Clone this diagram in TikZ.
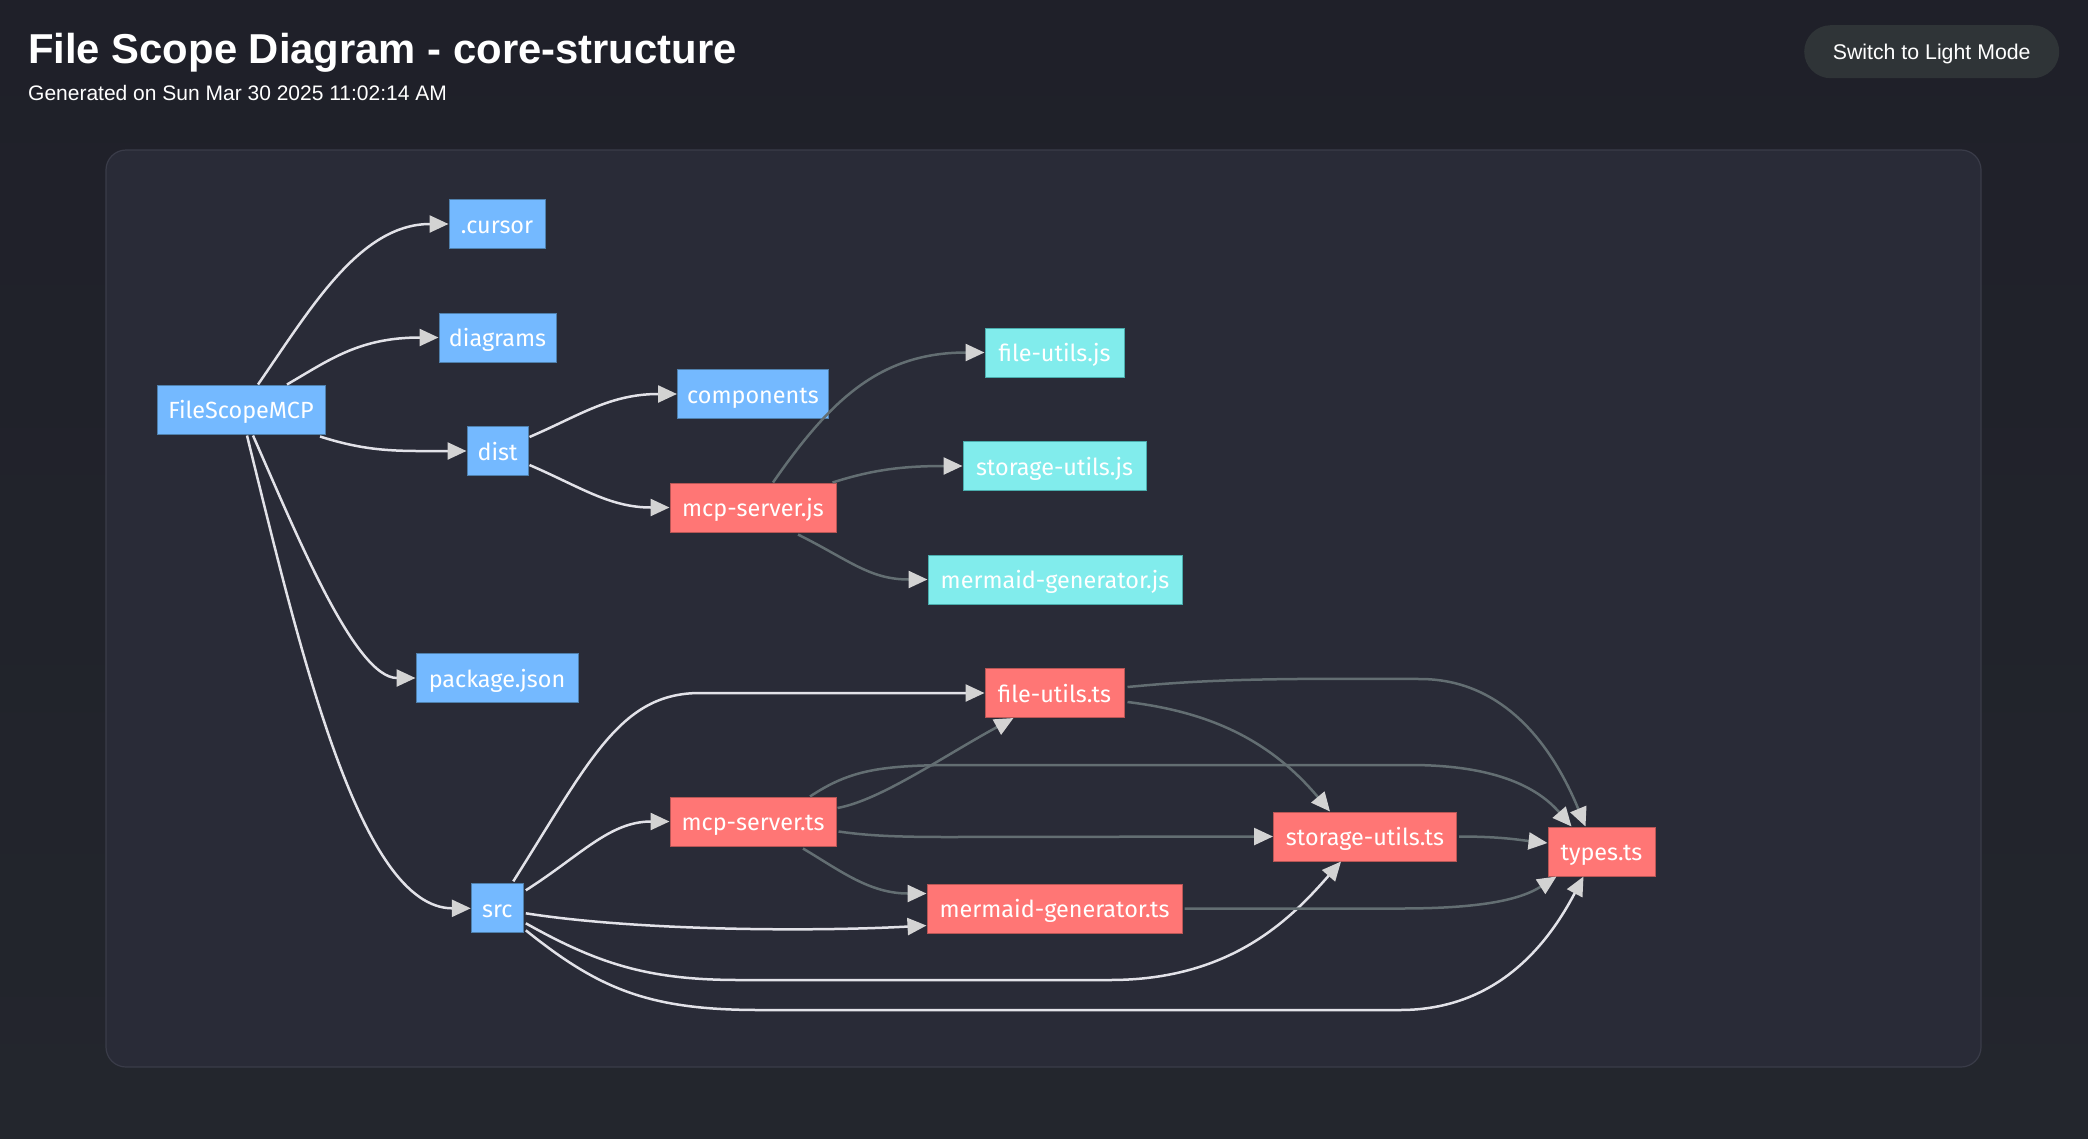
\documentclass[tikz,border=0pt]{standalone}
\usepackage{fontspec}
\setmainfont{Liberation Sans}
\newfontfamily\nodefont{Fira Sans}
\usetikzlibrary{arrows.meta,calc}
\definecolor{pagebg}{HTML}{1F2029}
\definecolor{pagebgb}{HTML}{23262D}
\definecolor{panelbg}{HTML}{292B37}
\definecolor{panelbd}{HTML}{3A3C49}
\definecolor{btnbg}{HTML}{2F3437}
\definecolor{nblue}{HTML}{74B9FF}
\definecolor{nblueb}{HTML}{4F80AC}
\definecolor{nred}{HTML}{FF7675}
\definecolor{nredb}{HTML}{B85655}
\definecolor{ncyan}{HTML}{81ECEC}
\definecolor{ncyanb}{HTML}{4AADAD}
\definecolor{edgew}{HTML}{E2E2E8}
\definecolor{edgeg}{HTML}{636E72}
\definecolor{arrowc}{HTML}{D3D3D3}
\tikzset{
  fnode/.style={draw, line width=1pt, inner sep=0pt, minimum height=49pt, text=white,
    text height=18.6pt, text depth=0pt,
    font=\nodefont\fontsize{23.4}{27}\selectfont},
  dirnode/.style={fnode, fill=nblue, draw=nblueb},
  tsnode/.style={fnode, fill=nred, draw=nredb},
  jsnode/.style={fnode, fill=ncyan, draw=ncyanb},
  arr/.style={line width=2.5pt, -{Triangle[length=19pt,width=17pt,color=arrowc]}},
  wedge/.style={arr, draw=edgew},
  gedge/.style={arr, draw=edgeg},
}
\begin{document}
\begin{tikzpicture}[x=1pt,y=-1pt]
\useasboundingbox (0,0) rectangle (2088,1138);
\shade[top color=pagebg, bottom color=pagebgb] (0,0) rectangle (2088,1138);
\draw[fill=panelbg, draw=panelbd, line width=1.2pt, rounded corners=20pt] (106,150) rectangle (1981,1067);

\node[anchor=base west, text=white, font=\bfseries\fontsize{41.8}{50}\selectfont, inner sep=0pt] (title) at (28,63) {File Scope Diagram - core-structure};
\node[anchor=base west, text=white, font=\fontsize{21}{25}\selectfont, inner sep=0pt] (subtitle) at (28,100) {Generated on Sun Mar 30 2025 11:02:14 AM};
\node[fill=btnbg, rounded corners=26.5pt, minimum width=255pt, minimum height=53pt, inner sep=0pt, text=white, text height=15.3pt, text depth=0pt, font=\fontsize{21.3}{25}\selectfont] (btn) at (1931.7,51.7) {Switch to Light Mode};

% nodes
\node[dirnode, minimum width=168pt] (fsm) at (241,409.5) {FileScopeMCP};
\node[dirnode, minimum width=96pt] (cursor) at (497,224) {.cursor};
\node[dirnode, minimum width=117pt] (diagrams) at (497.5,337.5) {diagrams};
\node[dirnode, minimum width=61pt] (dist) at (497.5,451) {dist};
\node[dirnode, minimum width=162pt] (package) at (497,678) {package.json};
\node[dirnode, minimum width=52pt] (src) at (497.3,908.3) {src};
\node[dirnode, minimum width=151pt] (components) at (753,394) {components};
\node[tsnode, minimum width=166pt] (mcpjs) at (753,507.5) {mcp-server.js};
\node[jsnode, minimum width=139pt] (fujs) at (1054.5,352.5) {file-utils.js};
\node[jsnode, minimum width=183pt] (sujs) at (1054.5,466) {storage-utils.js};
\node[jsnode, minimum width=254pt] (mgjs) at (1055,579.5) {mermaid-generator.js};
\node[tsnode, minimum width=139pt] (futs) at (1054.5,693) {file-utils.ts};
\node[tsnode, minimum width=166pt] (mcpts) at (753,821.5) {mcp-server.ts};
\node[tsnode, minimum width=183pt] (suts) at (1365,836.5) {storage-utils.ts};
\node[tsnode, minimum width=107pt] (types) at (1601.5,851.5) {types.ts};
\node[tsnode, minimum width=255pt] (mgts) at (1054.5,908.5) {mermaid-generator.ts};

% edges from FileScopeMCP
\draw[wedge] ($(fsm.north)+(17,0)$) .. controls +(52,-75) and +(-89,0) .. (cursor.west);
\draw[wedge] ($(fsm.north)+(46,0)$) .. controls +(43,-25) and +(-79,0) .. (diagrams.west);
\draw[wedge] ($(fsm.south)+(79,2)$) .. controls +(50,16) and +(-67,0) .. (dist.west);
\draw[wedge] ($(fsm.south)+(12,1)$) .. controls +(42,95) and +(-61,0) .. (package.west);
\draw[wedge] ($(fsm.south)+(6,1)$) .. controls +(53,215) and +(-111,0) .. (src.west);
% dist
\draw[wedge] ($(dist.east)+(1,-14)$) .. controls +(51,-22) and +(-67,0) .. (components.west);
\draw[wedge] ($(dist.east)+(1,14)$) .. controls +(51,22) and +(-60,0) .. (mcpjs.west);
% mcp-server.js
\draw[gedge] ($(mcpjs.north)+(20,0)$) .. controls +(57,-82) and +(-105,0) .. (fujs.west);
\draw[gedge] ($(mcpjs.north east)+(-4,0)$) .. controls +(38,-12) and +(-63,0) .. (sujs.west);
\draw[gedge] ($(mcpjs.south)+(45,2)$) .. controls +(52,26) and +(-58,0) .. (mgjs.west);
% src
\draw[wedge] ($(src.north)+(16,-2)$) .. controls (590,760) and (620,693) .. (700,693) -- (futs.west);
\draw[wedge] ($(src.east)+(2,-18)$) .. controls +(55,-35) and +(-60,0) .. (mcpts.west);
\draw[wedge] ($(src.east)+(2,5)$) .. controls +(115,18) and +(-107,6) .. ($(mgts.west)+(0,17)$);
\draw[wedge] ($(src.east)+(2,15)$) .. controls (600,965) and (650,980) .. (740,980) -- (1110,980) .. controls (1230,980) and (1290,920) .. ($(suts.south)+(-24,0)$);
\draw[wedge] ($(src.east)+(2,22)$) .. controls (600,990) and (650,1010) .. (760,1010) -- (1400,1010) .. controls (1500,1010) and (1550,940) .. ($(types.south)+(-18,0)$);
% mcp-server.ts
\draw[gedge] ($(mcpts.east)+(1,-13.5)$) .. controls +(43,-8) and +(-73,40) .. ($(futs.south)+(-41,0)$);
\draw[gedge] ($(mcpts.north)+(57,0)$) .. controls (850,770) and (880,765) .. (960,765) -- (1410,765) .. controls (1500,765) and (1540,790) .. ($(types.north)+(-30,0)$);
\draw[gedge] ($(mcpts.east)+(2,10)$) .. controls (870,836) and (900,837) .. (950,837) -- (suts.west);
\draw[gedge] ($(mcpts.south)+(50,2)$) .. controls +(37,22) and +(-57,0) .. ($(mgts.west)+(0,-15)$);
% file-utils.ts
\draw[gedge] ($(futs.east)+(3,-6)$) .. controls (1200,680) and (1260,678) .. (1420,679) .. controls (1500,679) and (1550,740) .. ($(types.north)+(-16,0)$);
\draw[gedge] ($(futs.east)+(3,9)$) .. controls (1210,712) and (1270,740) .. ($(suts.north)+(-35,0)$);
% storage-utils.ts, mermaid-generator.ts
\draw[gedge] ($(suts.east)+(2,0)$) .. controls +(42,0) and +(-28,-3) .. ($(types.west)+(0,-8.5)$);
\draw[gedge] ($(mgts.east)+(2,0)$) -- (1400,908.5) .. controls (1480,908.5) and (1520,900) .. ($(types.south)+(-45,0)$);
\end{tikzpicture}
\end{document}
